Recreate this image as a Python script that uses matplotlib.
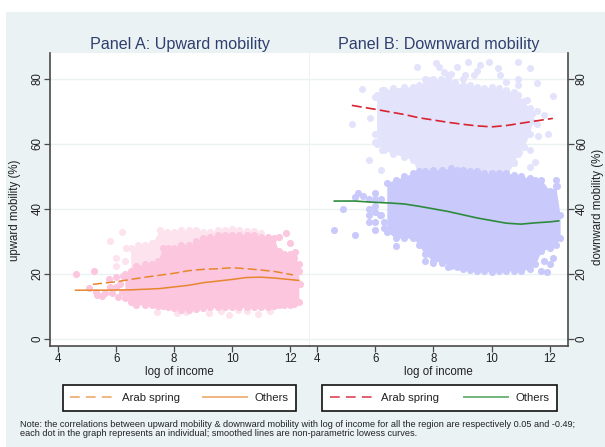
import matplotlib
matplotlib.use("Agg")
import matplotlib.pyplot as plt
from matplotlib.lines import Line2D
from matplotlib.patches import Rectangle

plt.rcParams['font.family'] = ['Liberation Sans', 'DejaVu Sans']

W, H = 605, 447
BG = '#eaf2f3'
TITLE = 'Panel A: Upward mobility'
TITLE_B = 'Panel B: Downward mobility'
NOTE = ("Note: the correlations between upward mobility & downward mobility with log of income for all the region are respectively 0.05 and -0.49;\n"
        "each dot in the graph represents an individual; smoothed lines are non-parametric lowess curves.")
yticks = [0, 20, 40, 60, 80]
xticks = [4, 6, 8, 10, 12]

# Panel A curves
a_arab_x = [5.2, 5.6, 6, 6.5, 7, 7.5, 8, 8.5, 9, 9.5, 10, 10.5, 11, 11.5, 12.1]
a_arab_y = [16.8, 17.2, 17.6, 18.3, 19, 19.6, 20.2, 21, 21.4, 21.6, 21.9, 21.6, 21.2, 20.7, 19.7]
a_oth_x = [4.6, 5.5, 6.5, 7.5, 8.5, 9, 9.5, 10, 10.5, 11, 11.5, 12.3]
a_oth_y = [15, 15, 15.1, 15.5, 16.5, 17.3, 17.8, 18.3, 18.9, 19, 18.7, 18]
# Panel B curves
b_arab_x = [5.2, 5.6, 6, 6.5, 7, 7.5, 8, 8.5, 9, 9.5, 10, 10.5, 11, 11.5, 12.1]
b_arab_y = [71.8, 71.2, 70.6, 69.8, 69, 68, 67.3, 66.6, 66, 65.5, 65.2, 65.6, 66.3, 67, 67.8]
b_oth_x = [4.6, 5.3, 6, 6.5, 7, 7.5, 8, 8.5, 9, 9.5, 10, 10.5, 11, 11.5, 12, 12.3]
b_oth_y = [42.4, 42.4, 42, 41.8, 41.5, 40.8, 40, 39.2, 38.2, 37.2, 36.4, 35.6, 35.3, 35.7, 36, 36.3]

# Panel A cloud envelopes (x, low, high)
a_dense_x = [6.3, 6.5, 6.7, 7.0, 7.25, 7.45, 7.6, 7.8, 8.0, 8.25, 8.5, 8.75, 9.0, 9.25, 9.5, 9.75, 10, 10.25, 10.5, 10.75, 11, 11.25, 11.45, 11.6, 11.8, 12.0, 12.15, 12.3]
a_dense_lo = [12.5, 11.5, 10.5, 10.5, 10.3, 10, 10, 9.7, 9.5, 9, 9, 9.3, 9.5, 9.7, 9.7, 9.7, 9.7, 9.7, 9.7, 9.7, 9.7, 9.8, 10, 10.5, 10.5, 10.5, 10.8, 11.5]
a_dense_hi = [20, 21, 22.5, 23, 23, 24, 28, 28, 28, 29, 29, 30, 31, 31.5, 32, 32, 32, 32, 32, 32, 31.5, 31.5, 31, 27, 26, 26, 25, 23]
a_light_x = [6.5, 6.75, 7.0, 7.25, 7.5, 7.75, 8.0, 8.25, 8.5, 8.75, 9.0, 9.25, 9.5, 9.75, 10, 10.25, 10.5, 10.75, 11]
a_light_lo = [20, 20, 20, 20, 22, 24, 26, 26, 28, 28, 28, 29, 30, 30, 30, 30, 30, 30, 30]
a_light_hi = [28, 29, 29, 29.5, 33.5, 33, 33, 33.5, 33.5, 33.5, 33, 33, 33.5, 33.5, 33.7, 33.5, 33.3, 33.2, 32.5]
a_dense_dx = [4.6, 5.05, 5.25, 5.3, 5.35, 5.5, 5.6, 5.75, 5.8, 5.85, 6.0, 6.0, 6.05, 6.15, 6.2, 6.25, 11.6, 11.85, 12.0, 12.17, 12.3, 12.35]
a_dense_dy = [19.9, 15.8, 21, 14.5, 13.5, 13.2, 14, 18.5, 16, 14, 16, 19, 13, 17, 14.5, 19.5, 31.5, 32.5, 29.4, 26.8, 21, 17]
a_light_dx = [5.8, 6.0, 6.0, 6.2, 6.35, 6.3, 7.4, 8.1, 8.4, 9.2, 9.6, 9.9, 10.2, 10.9, 11.3, 10.5]
a_light_dy = [30.2, 25, 22.5, 32.8, 28, 24, 8.4, 7.9, 8.4, 7.9, 8.6, 7.4, 8.9, 7.7, 8.7, 8.5]

# Panel B cloud envelopes (x, low, high)
b_dense_x = [6.4, 6.7, 7.0, 7.3, 7.5, 7.7, 8.0, 8.3, 8.6, 8.8, 9.0, 9.25, 9.5, 9.75, 10, 10.25, 10.5, 10.75, 11, 11.3, 11.5, 11.7, 12.0, 12.2, 12.35]
b_dense_lo = [33, 31, 31, 31, 29, 26, 24, 23.5, 22.5, 22, 21.5, 21.2, 21, 20.8, 20.5, 20.8, 21, 21, 21, 21.5, 23, 27, 28, 29, 31]
b_dense_hi = [48, 49, 50, 51, 51.5, 51.5, 52, 52, 52.5, 52, 52, 51.7, 51.5, 51, 51, 51, 51, 50.5, 50, 49.5, 49, 49, 45.5, 47, 38]
b_light_x = [6.05, 6.3, 6.6, 7.0, 7.3, 7.5, 7.75, 8.0, 8.25, 8.5, 8.75, 9.0, 9.25, 9.5, 9.75, 10, 10.25, 10.5, 10.75, 10.9, 11.1, 11.3, 11.4]
b_light_lo = [60, 58, 57, 56, 55, 50, 50, 50, 50, 50, 50, 50, 50, 50, 50, 50, 50, 50, 54, 57, 59, 63, 67]
b_light_hi = [75, 76.5, 77, 77.5, 77.5, 78, 79, 80, 80, 80, 79, 78, 78, 77.5, 77, 77.5, 77, 76.5, 76, 75, 73, 71, 69]
b_dense_dx = [4.6, 4.9, 5.3, 5.3, 5.4, 5.6, 5.8, 5.8, 5.8, 5.8, 6.0, 6.0, 6.0, 6.0, 6.0, 6.0, 6.15, 6.2, 6.2, 6.3, 6.3, 6.7, 7.7, 8.0, 8.5, 11.7, 11.9, 12.0, 12.1, 11.8, 12.2, 12.25]
b_dense_dy = [33.5, 40, 32, 43.5, 45, 44, 43, 40, 38, 36, 45, 43, 41, 39, 36, 33.5, 38, 43, 38, 36, 34, 28.5, 24, 23.5, 22, 21, 20.5, 23, 25, 24, 49, 47]
b_light_dx = [5.2, 5.55, 5.8, 6.2, 7.43, 8.1, 8.35, 8.2, 8.6, 8.8, 9.1, 9.2, 9.6, 9.5, 9.9, 10.2, 10.3, 10.9, 11.3, 10.9, 10.9, 11.55, 12.1, 11.2, 11.55, 11.8, 11.55, 11.95, 11.6, 11.3, 10.95, 11.5, 11.3, 10.75, 6.0, 6.0, 6.25, 5.83, 6.0, 6.23, 7.7, 9.4, 7.8, 8.5, 9.0, 10.5]
b_light_dy = [66, 76.8, 55, 52, 83.7, 84.7, 82, 83.5, 81.5, 83.7, 81, 85, 84.2, 82.5, 85.2, 83.2, 81, 85, 83.2, 80, 78, 78.6, 74.7, 73.5, 70, 68.8, 66, 63, 62.4, 58, 57.6, 54.5, 53, 54.5, 63, 60.6, 58, 68, 74.5, 76.5, 80, 81, 79.5, 81, 80, 79]

PINK_D, PINK_L = '#fbc6de', '#fde3ee'
LAV_D, LAV_L = '#c9c9fb', '#e3e3fc'
ORANGE = '#e8862e'
RED, GREEN = '#d9232e', '#2e8b3d'
INK = '#2f3f6f'
SPINE = '#4a4a4a'
TEXT = '#222222'
DOT = 26


def rect(x0, x1, ytop, ybot):
    return [x0 / W, 1 - ybot / H, (x1 - x0) / W, (ybot - ytop) / H]


fig = plt.figure(figsize=(W / 100, H / 100), dpi=100, facecolor='white')
fig.add_artist(Rectangle((6 / W, 0), 1 - 6 / W, 1 - 12 / H, transform=fig.transFigure,
                         facecolor=BG, edgecolor='none', zorder=-5))

axA = fig.add_axes(rect(50, 309, 53, 345.7))
axB = fig.add_axes(rect(309.6, 568, 53, 345.7))


def cloud(ax, x, lo, hi, dx, dy, color, z):
    ax.fill_between(x, lo, hi, color=color, lw=0, zorder=z)
    ax.scatter(x, lo, s=DOT, color=color, lw=0, zorder=z)
    ax.scatter(x, hi, s=DOT, color=color, lw=0, zorder=z)
    ax.scatter(dx, dy, s=DOT, color=color, lw=0, zorder=z)


cloud(axA, a_light_x, a_light_lo, a_light_hi, a_light_dx, a_light_dy, PINK_L, 2)
cloud(axA, a_dense_x, a_dense_lo, a_dense_hi, a_dense_dx, a_dense_dy, PINK_D, 3)
cloud(axB, b_light_x, b_light_lo, b_light_hi, b_light_dx, b_light_dy, LAV_L, 2)
cloud(axB, b_dense_x, b_dense_lo, b_dense_hi, b_dense_dx, b_dense_dy, LAV_D, 3)

axA.plot(a_arab_x, a_arab_y, color=ORANGE, lw=1.1, dashes=(6, 2.5), zorder=5)
axA.plot(a_oth_x, a_oth_y, color=ORANGE, lw=1.1, zorder=5)
axB.plot(b_arab_x, b_arab_y, color=RED, lw=1.2, dashes=(6, 2.5), zorder=5)
axB.plot(b_oth_x, b_oth_y, color=GREEN, lw=1.2, zorder=5)

for ax, xlim, title in ((axA, (3.72, 12.65), TITLE), (axB, (3.75, 12.62), TITLE_B)):
    ax.set_xlim(*xlim)
    ax.set_ylim(-2.06, 87.9)
    ax.set_xticks(xticks)
    ax.set_yticks(yticks)
    ax.grid(axis='y', color=BG, lw=1.0, zorder=0)
    ax.set_axisbelow(True)
    ax.tick_params(labelsize=8.3, length=4.2, width=0.9, color=SPINE, labelcolor=TEXT)
    ax.tick_params(axis='x', pad=1)
    ax.set_xlabel('log of income', fontsize=8.3, color=TEXT, labelpad=0.5)
    ax.set_title(title, fontsize=11.6, color=INK, pad=3)
    ax.spines['top'].set_visible(False)
    for s in ax.spines.values():
        s.set_color(SPINE)
        s.set_linewidth(1.2)

axA.spines['right'].set_visible(False)
axA.tick_params(axis='y', labelrotation=90, pad=0.3)
for t in axA.get_yticklabels():
    t.set_va('center')
fig.text(15 / W, 1 - 210 / H, 'upward mobility (%)', rotation=90, fontsize=8.3,
         ha='center', va='center', color=TEXT)

axB.spines['left'].set_visible(False)
axB.yaxis.tick_right()
axB.tick_params(axis='y', labelrotation=90, pad=1.5)
for t in axB.get_yticklabels():
    t.set_va('center')
fig.text(598 / W, 1 - 207 / H, 'downward mobility (%)', rotation=90, fontsize=8.3,
         ha='center', va='center', color=TEXT)


def legend(x0, x1, dash_color, solid_color):
    handles = [Line2D([], [], color=dash_color, lw=1.4, dashes=(5, 3.2)),
               Line2D([], [], color=solid_color, lw=1.4)]
    leg = fig.legend(handles, ['Arab spring', 'Others'], ncol=2, loc='lower left',
                     bbox_to_anchor=(x0 / W, 1 - 410.5 / H, (x1 - x0) / W, 25 / H),
                     bbox_transform=fig.transFigure, mode='expand', fontsize=8.2,
                     fancybox=False, framealpha=1, facecolor='white', edgecolor='#111111',
                     borderaxespad=0, handlelength=3.9, handletextpad=0.6, columnspacing=1.0,
                     borderpad=0.7, labelcolor=TEXT)
    leg.get_frame().set_linewidth(1.2)
    return leg


legend(62.5, 296, '#efb67f', '#efb67f')
legend(322, 557, '#e2606f', '#72b67c')

fig.text(19.5 / W, 1 - 438.5 / H, NOTE, fontsize=6.57, color=TEXT, ha='left', va='bottom',
         linespacing=1.05)

fig.savefig('out.png', dpi=100, facecolor=fig.get_facecolor())
